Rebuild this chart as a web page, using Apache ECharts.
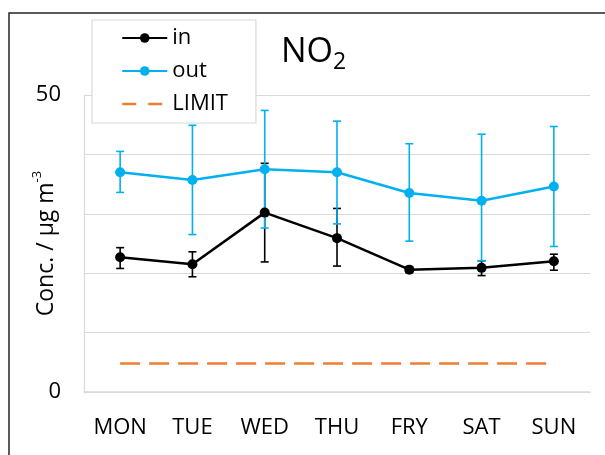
<!DOCTYPE html>
<html lang="en">
<head>
    <meta charset="UTF-8">
    <title>NO2</title>
    <script src="https://cdn.jsdelivr.net/npm/echarts@6/dist/echarts.min.js"></script>
    <style>
        html, body { margin: 0; padding: 0; background: #fff; }
    </style>
</head>
<body>
<div style="width:605px;height:455px" id="myChart"></div>
<script type="text/javascript">
    // 数据
    var days = ['MON', 'TUE', 'WED', 'THU', 'FRY', 'SAT', 'SUN'];
    var inMean = [22.7, 21.5, 30.2, 25.9, 20.6, 20.9, 22.0];
    var inLow = [20.8, 19.4, 21.9, 21.2, 20.1, 19.6, 20.5];
    var inHigh = [24.3, 23.6, 38.5, 30.9, 21.1, 22.1, 23.2];
    var outMean = [37.0, 35.7, 37.5, 37.0, 33.5, 32.2, 34.6];
    var outLow = [33.6, 26.5, 27.6, 28.3, 25.4, 22.1, 24.5];
    var outHigh = [40.5, 44.9, 47.4, 45.6, 41.8, 43.4, 44.7];
    var limit = [4.8, 4.8, 4.8, 4.8, 4.8, 4.8, 4.8];
    var yTicks = ['0', '50'];

    var font = 'Open Sans';

    function errData(low, high) {
        return days.map(function (d, i) { return [i, low[i], high[i]]; });
    }

    function errBar(color) {
        return function (params, api) {
            var x = api.value(0);
            var lo = api.coord([x, api.value(1)]);
            var hi = api.coord([x, api.value(2)]);
            var w = 4;
            var style = { stroke: color, lineWidth: 1.6 };
            return {
                type: 'group',
                children: [
                    { type: 'line', shape: { x1: hi[0], y1: hi[1], x2: lo[0], y2: lo[1] }, style: style },
                    { type: 'line', shape: { x1: hi[0] - w, y1: hi[1], x2: hi[0] + w, y2: hi[1] }, style: style },
                    { type: 'line', shape: { x1: lo[0] - w, y1: lo[1], x2: lo[0] + w, y2: lo[1] }, style: style }
                ]
            };
        };
    }

    var myChart = echarts.init(document.getElementById('myChart'));
    myChart.setOption({
        animation: false,
        textStyle: { fontFamily: font },
        graphic: [{
            type: 'rect',
            shape: { x: 9, y: 13, width: 640, height: 500 },
            style: { fill: 'none', stroke: '#262626', lineWidth: 1.5 },
            silent: true
        }],
        title: {
            text: '{a|NO}{b|2}',
            left: 276,
            top: 25,
            textStyle: {
                fontWeight: 'normal',
                rich: {
                    a: { fontFamily: font, fontSize: 34, fontWeight: 'normal', color: '#000', lineHeight: 44 },
                    b: { fontFamily: font, fontSize: 23, fontWeight: 'normal', color: '#000', lineHeight: 26, verticalAlign: 'bottom' }
                }
            }
        },
        legend: {
            orient: 'vertical',
            left: 92,
            top: 20,
            padding: [6, 28, 7, 29],
            itemGap: 9,
            itemWidth: 45,
            itemHeight: 12,
            backgroundColor: '#fff',
            borderColor: '#d9d9d9',
            borderWidth: 1.2,
            z: 10,
            data: [
                'in',
                'out',
                { name: 'LIMIT', itemStyle: { opacity: 0 }, lineStyle: { type: [14, 12], width: 2.5 } }
            ],
            textStyle: { fontFamily: font, fontSize: 22, color: '#000', lineHeight: 24 }
        },
        grid: { left: 84, right: 15, top: 95, bottom: 63, outerBoundsMode: 'none', containLabel: false },
        xAxis: {
            type: 'category',
            data: days,
            axisLine: { lineStyle: { color: '#d9d9d9', width: 1.5 } },
            axisTick: { show: false },
            axisLabel: { fontFamily: font, fontSize: 22, color: '#000', margin: 25 }
        },
        yAxis: {
            type: 'value',
            min: 0,
            max: 50,
            interval: 10,
            name: 'Conc. / μg m{sup|-3}',
            nameLocation: 'middle',
            nameGap: 23,
            nameRotate: 90,
            nameMoveOverlap: false,
            nameTextStyle: {
                fontFamily: font, fontSize: 23, color: '#000', lineHeight: 30,
                rich: {
                    sup: { fontFamily: font, fontSize: 13, color: '#000', verticalAlign: 'top', lineHeight: 30 }
                }
            },
            axisLine: { show: true, lineStyle: { color: '#d9d9d9', width: 1.2 } },
            axisTick: { show: false },
            splitLine: { lineStyle: { color: '#d9d9d9', width: 1.2 } },
            axisLabel: {
                fontFamily: font, fontSize: 22, color: '#000', margin: 23,
                formatter: function (v) {
                    return yTicks.indexOf(String(v)) >= 0 ? String(v) : '';
                }
            }
        },
        series: [
            {
                name: 'LIMIT',
                type: 'line',
                data: limit,
                symbol: 'none',
                lineStyle: { color: '#ed7d31', width: 2.5, type: [20, 9] },
                itemStyle: { color: '#ed7d31' }
            },
            {
                type: 'custom',
                name: 'inErr',
                data: errData(inLow, inHigh),
                renderItem: errBar('#000'),
                z: 3
            },
            {
                type: 'custom',
                name: 'outErr',
                data: errData(outLow, outHigh),
                renderItem: errBar('#00b0f0'),
                z: 3
            },
            {
                name: 'in',
                type: 'line',
                data: inMean,
                symbol: 'circle',
                symbolSize: 10,
                lineStyle: { color: '#000', width: 2.5 },
                itemStyle: { color: '#000' },
                z: 4
            },
            {
                name: 'out',
                type: 'line',
                data: outMean,
                symbol: 'circle',
                symbolSize: 10,
                lineStyle: { color: '#00b0f0', width: 2.5 },
                itemStyle: { color: '#00b0f0' },
                z: 4
            }
        ]
    });
</script>
</body>
</html>
